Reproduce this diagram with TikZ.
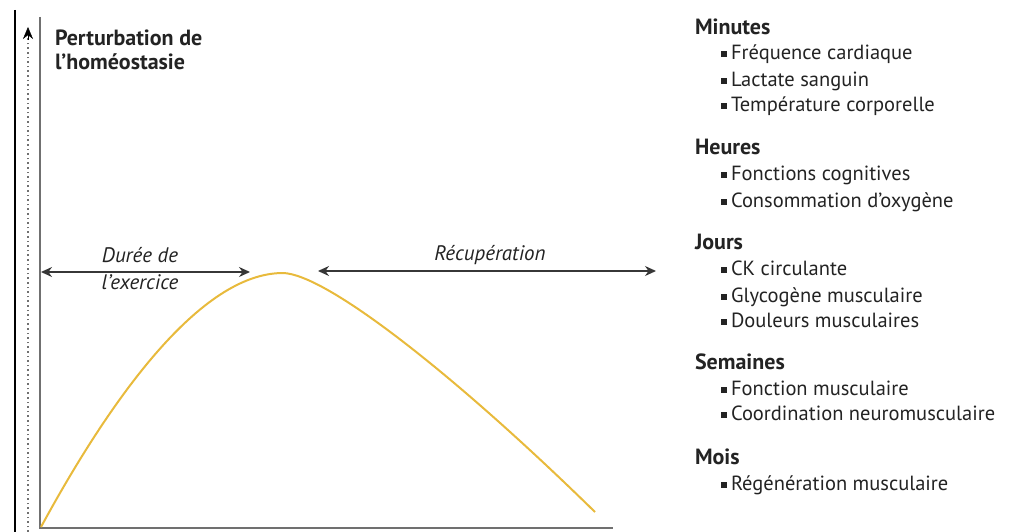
\documentclass[tikz,border=0pt]{standalone}
\usepackage{fontspec}
\setmainfont{PT Sans}
\usetikzlibrary{arrows.meta}
\definecolor{curvecol}{RGB}{232,186,60}
\definecolor{axiscol}{RGB}{112,112,112}
\definecolor{arrcol}{RGB}{55,55,55}
\definecolor{txtcol}{RGB}{35,35,35}
\newcommand{\itembullet}{\raisebox{2.5pt}{\rule{6pt}{6pt}}\hspace{4pt}}
\begin{document}
\begin{tikzpicture}[x=1pt,y=-1pt,
  every node/.style={inner sep=0pt,outer sep=0pt,text=txtcol},
  header/.style={font=\fontsize{22}{24}\selectfont\bfseries,anchor=base west},
  entry/.style={font=\fontsize{20.5}{24}\selectfont,anchor=base west},
  label/.style={font=\fontsize{21}{24}\selectfont\itshape,anchor=base},
  span/.style={draw=arrcol,line width=1.4pt,{Stealth[length=11pt,width=10pt]}-{Stealth[length=11pt,width=10pt]}},
  axis/.style={draw=axiscol,line width=2pt},
  perturb/.style={draw=curvecol,line width=2pt}]
\useasboundingbox (0,0) rectangle (1011,532);

% page edge line and dotted axis arrow
\coordinate (edgeT) at (15,10);
\coordinate (edgeB) at (15,532);
\draw[black,line width=1.4pt] (edgeT) -- (edgeB);
\coordinate (dotB) at (28,532);
\coordinate (dotT) at (28,27);
\draw[axiscol,line width=1.6pt,dash pattern=on 1.6pt off 3pt] (dotB) -- (28,36);
\draw[black,-{Stealth[length=12pt,width=10pt]}] (28,40) -- (dotT);

% axes
\coordinate (axT) at (40,17);
\coordinate (org) at (40,528);
\coordinate (axR) at (613,528);
\draw[axis] (axT) -- (org) -- (axR);

% title
\node[header] (t1) at (55,46) {Perturbation de};
\node[header] (t2) at (55,70) {l’homéostasie};

% curve
\coordinate (cS) at (41,527);
\coordinate (cP) at (283,273);
\coordinate (cE) at (595,512);
\draw[perturb] (cS) .. controls (110,400) and (200,273) .. (cP)
  .. controls (325,274) and (450,370) .. (cE);

% duration arrows
\coordinate (exL) at (41,272);
\coordinate (exR) at (250,272);
\draw[span] (exL) -- (exR);
\coordinate (recL) at (318,271);
\coordinate (recR) at (656,271);
\draw[span] (recL) -- (recR);
\node[label] (ex1) at (140,262) {Durée de};
\node[label] (ex2) at (140,289) {l’exercice};
\node[label] (rec) at (490,260) {Récupération};

% list
\node[header] (h1) at (695,35) {Minutes};
\node[entry] (m1) at (721,60) {\itembullet Fréquence cardiaque};
\node[entry] (m2) at (721,87) {\itembullet Lactate sanguin};
\node[entry] (m3) at (721,112) {\itembullet Température corporelle};
\node[header] (h2) at (695,154) {Heures};
\node[entry] (hh1) at (721,180) {\itembullet Fonctions cognitives};
\node[entry] (hh2) at (721,207) {\itembullet Consommation d’oxygène};
\node[header] (h3) at (695,249) {Jours};
\node[entry] (j1) at (721,275) {\itembullet CK circulante};
\node[entry] (j2) at (721,302) {\itembullet Glycogène musculaire};
\node[entry] (j3) at (721,327) {\itembullet Douleurs musculaires};
\node[header] (h4) at (695,369) {Semaines};
\node[entry] (s1) at (721,395) {\itembullet Fonction musculaire};
\node[entry] (s2) at (721,420) {\itembullet Coordination neuromusculaire};
\node[header] (h5) at (695,464) {Mois};
\node[entry] (mo1) at (721,490) {\itembullet Régénération musculaire};
\end{tikzpicture}
\end{document}
